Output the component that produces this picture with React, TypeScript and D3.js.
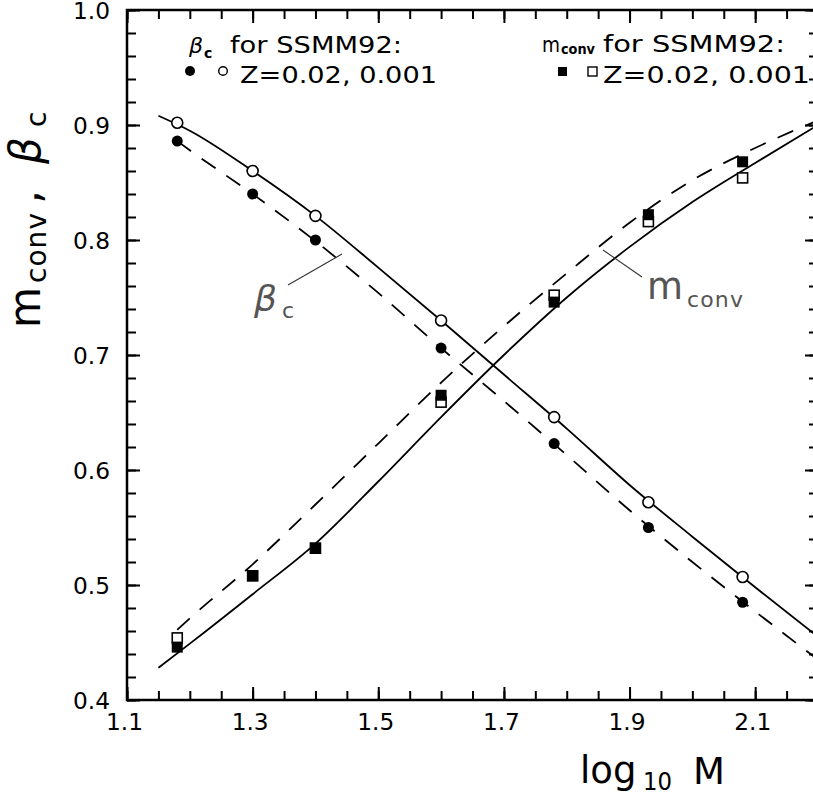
import React, { useEffect, useRef } from 'react'
import * as d3 from 'd3'

// model points (SSMM92 tracks), log10 M
const massPts = [1.18, 1.3, 1.4, 1.6, 1.78, 1.93, 2.08]
const betaZ02 = [0.886, 0.84, 0.8, 0.706, 0.623, 0.55, 0.485]
const betaZ001 = [0.902, 0.86, 0.821, 0.73, 0.646, 0.572, 0.507]
const mconvZ02 = [0.446, 0.508, 0.532, 0.665, 0.746, 0.822, 0.868]
const mconvZ001 = [0.454, 0.508, 0.532, 0.659, 0.752, 0.816, 0.854]

// fitted curves
const solidX = [1.15, 1.2, 1.3, 1.4, 1.5, 1.6, 1.7, 1.8, 1.9, 2.0, 2.1, 2.2]
const betaSolid = [0.908, 0.895, 0.86, 0.821, 0.776, 0.73, 0.683, 0.636, 0.587, 0.542, 0.498, 0.455]
const mconvSolid = [0.428, 0.449, 0.492, 0.536, 0.59, 0.646, 0.7, 0.75, 0.794, 0.833, 0.867, 0.9]
const dashX = [1.18, 1.2, 1.3, 1.4, 1.5, 1.6, 1.7, 1.8, 1.9, 2.0, 2.1, 2.2]
const betaDash = [0.886, 0.878, 0.84, 0.799, 0.754, 0.706, 0.66, 0.613, 0.565, 0.52, 0.477, 0.435]
const mconvDash = [0.461, 0.471, 0.518, 0.57, 0.623, 0.676, 0.725, 0.771, 0.815, 0.852, 0.88, 0.904]

const xMajor = [1.1, 1.3, 1.5, 1.7, 1.9, 2.1]
const yMajor = [0.4, 0.5, 0.6, 0.7, 0.8, 0.9, 1.0]
const legendText = ['for SSMM92:', 'Z=0.02, 0.001']

const W = 813
const H = 799
const FONT = '"DejaVu Sans", sans-serif'

function draw(node: SVGSVGElement) {
  const x = d3.scaleLinear().domain([1.1, 2.2]).range([127, 818])
  const y = d3.scaleLinear().domain([0.4, 1.0]).range([700, 10])
  const xMinor = d3.range(1.1, 2.2001, 0.05)
  const yMinor = d3.range(0.4, 1.0001, 0.02)

  const svg = d3.select(node)
  svg.selectAll('*').remove()

  const addAxis = (ax: any, tr: string) => {
    const g = svg.append('g').attr('transform', tr).call(ax)
    g.select('.domain').remove()
    g.selectAll('line').attr('stroke', '#000').attr('stroke-width', 2)
    g.selectAll('text')
      .attr('fill', '#000')
      .attr('font-family', FONT)
      .attr('font-size', 23)
      .attr('textLength', 37)
      .attr('lengthAdjust', 'spacingAndGlyphs')
    return g
  }
  const none = () => ''
  const fmt = d3.format('.1f')

  // minor ticks
  addAxis(d3.axisBottom(x).tickValues(xMinor).tickSize(-9).tickFormat(none), 'translate(0,700)')
  addAxis(d3.axisTop(x).tickValues(xMinor).tickSize(-9).tickFormat(none), 'translate(0,10)')
  addAxis(d3.axisLeft(y).tickValues(yMinor).tickSize(-9).tickFormat(none), 'translate(127,0)')
  addAxis(d3.axisRight(y).tickValues(yMinor).tickSize(-9).tickFormat(none), 'translate(818,0)')
  // major ticks
  addAxis(d3.axisBottom(x).tickValues(xMajor).tickSize(-13).tickPadding(14).tickFormat(fmt as any), 'translate(0,700)')
    .selectAll('text').attr('dx', -3)
  addAxis(d3.axisTop(x).tickValues(xMajor).tickSize(-13).tickFormat(none), 'translate(0,10)')
  addAxis(d3.axisLeft(y).tickValues(yMajor).tickSize(-13).tickPadding(17).tickFormat(fmt as any), 'translate(127,0)')
    .selectAll('text').attr('dy', '0.36em')
  addAxis(d3.axisRight(y).tickValues(yMajor).tickSize(-13).tickFormat(none), 'translate(818,0)')

  svg.append('rect')
    .attr('x', x(1.1)).attr('y', y(1.0))
    .attr('width', x(2.2) - x(1.1)).attr('height', y(0.4) - y(1.0))
    .attr('fill', 'none').attr('stroke', '#000').attr('stroke-width', 2.5)

  const line = d3.line<[number, number]>()
    .x((d) => x(d[0]))
    .y((d) => y(d[1]))
    .curve(d3.curveMonotoneX)

  const curves = [
    { xs: solidX, ys: betaSolid, dash: null },
    { xs: solidX, ys: mconvSolid, dash: null },
    { xs: dashX, ys: betaDash, dash: '17,13' },
    { xs: dashX, ys: mconvDash, dash: '17,13' },
  ]
  curves.forEach((c) => {
    svg.append('path')
      .datum(d3.zip(c.xs, c.ys) as [number, number][])
      .attr('d', line)
      .attr('fill', 'none')
      .attr('stroke', '#000')
      .attr('stroke-width', 1.8)
      .attr('stroke-dasharray', c.dash)
  })

  // markers
  const pts = (ys: number[]) => d3.zip(massPts, ys)
  svg.append('g').selectAll('rect').data(pts(mconvZ001)).join('rect')
    .attr('x', (d) => x(d[0]) - 5).attr('y', (d) => y(d[1]) - 5)
    .attr('width', 10).attr('height', 10)
    .attr('fill', '#fff').attr('stroke', '#000').attr('stroke-width', 1.6)
  svg.append('g').selectAll('rect').data(pts(mconvZ02)).join('rect')
    .attr('x', (d) => x(d[0]) - 5.5).attr('y', (d) => y(d[1]) - 5.5)
    .attr('width', 11).attr('height', 11).attr('fill', '#000')
  svg.append('g').selectAll('circle').data(pts(betaZ001)).join('circle')
    .attr('cx', (d) => x(d[0])).attr('cy', (d) => y(d[1])).attr('r', 5.5)
    .attr('fill', '#fff').attr('stroke', '#000').attr('stroke-width', 1.6)
  svg.append('g').selectAll('circle').data(pts(betaZ02)).join('circle')
    .attr('cx', (d) => x(d[0])).attr('cy', (d) => y(d[1])).attr('r', 5.5)
    .attr('fill', '#000')

  const txt = (parent: any, px: number, py: number, s: string, size: number, opts: any = {}) => {
    const t = parent.append('text')
      .attr('x', px).attr('y', py)
      .attr('font-family', FONT).attr('font-size', size)
      .attr('fill', opts.fill || '#000')
      .text(s)
    if (opts.len) t.attr('textLength', opts.len).attr('lengthAdjust', opts.adj || 'spacingAndGlyphs')
    if (opts.italic) t.attr('font-style', 'italic')
    if (opts.bold) t.attr('font-weight', 'bold')
    return t
  }

  // legend, left
  txt(svg, 189, 53, 'β', 22, { italic: true })
  txt(svg, 204, 58, 'c', 14, { bold: true })
  txt(svg, 230, 53, legendText[0], 23, { len: 172 })
  svg.append('circle').attr('cx', 190).attr('cy', 71).attr('r', 5).attr('fill', '#000')
  svg.append('circle').attr('cx', 223).attr('cy', 71).attr('r', 4.3)
    .attr('fill', '#fff').attr('stroke', '#000').attr('stroke-width', 1.4)
  txt(svg, 240, 83, legendText[1], 23, { len: 197 })

  // legend, right
  txt(svg, 542, 52, 'm', 22, { len: 18 })
  txt(svg, 561, 54, 'conv', 14, { bold: true, len: 34 })
  txt(svg, 603, 52, legendText[0], 23, { len: 182 })
  svg.append('rect').attr('x', 558).attr('y', 67).attr('width', 9).attr('height', 9).attr('fill', '#000')
  svg.append('rect').attr('x', 588).attr('y', 67).attr('width', 9).attr('height', 9)
    .attr('fill', '#fff').attr('stroke', '#000').attr('stroke-width', 1.4)
  txt(svg, 603, 83, legendText[1], 23, { len: 207 })

  // in-plot curve labels
  const grey = '#555'
  svg.append('line').attr('x1', 288).attr('y1', 285).attr('x2', 342).attr('y2', 254)
    .attr('stroke', '#333').attr('stroke-width', 1.1)
  txt(svg, 254, 311, 'β', 36, { fill: grey, italic: true })
  txt(svg, 282, 318, 'c', 22, { fill: grey })
  svg.append('line').attr('x1', 603).attr('y1', 250).attr('x2', 642).attr('y2', 277)
    .attr('stroke', '#333').attr('stroke-width', 1.1)
  txt(svg, 647, 299, 'm', 38, { fill: grey, len: 36 })
  txt(svg, 687, 307, 'conv', 22, { fill: grey, len: 56, adj: 'spacing' })

  // x title
  txt(svg, 580, 783, 'log', 37)
  txt(svg, 643, 790, '10', 25, { len: 29 })
  txt(svg, 693, 784, 'M', 37)

  // y title (rotated)
  const yt = svg.append('g').attr('transform', 'translate(40,328) rotate(-90)')
  txt(yt, 0, 0, 'm', 44, { len: 41 })
  txt(yt, 45, 6, 'conv', 28, { len: 70, adj: 'spacing' })
  txt(yt, 124, 0, ',', 44)
  txt(yt, 164, 0, 'β', 42, { italic: true })
  txt(yt, 201, 6, 'c', 28)
}

export default function App() {
  const ref = useRef<SVGSVGElement>(null)
  useEffect(() => {
    if (ref.current) draw(ref.current)
  }, [])
  return (
    <svg
      ref={ref}
      width={W}
      height={H}
      style={{ position: 'absolute', left: 0, top: 0, background: '#fff' }}
    />
  )
}
